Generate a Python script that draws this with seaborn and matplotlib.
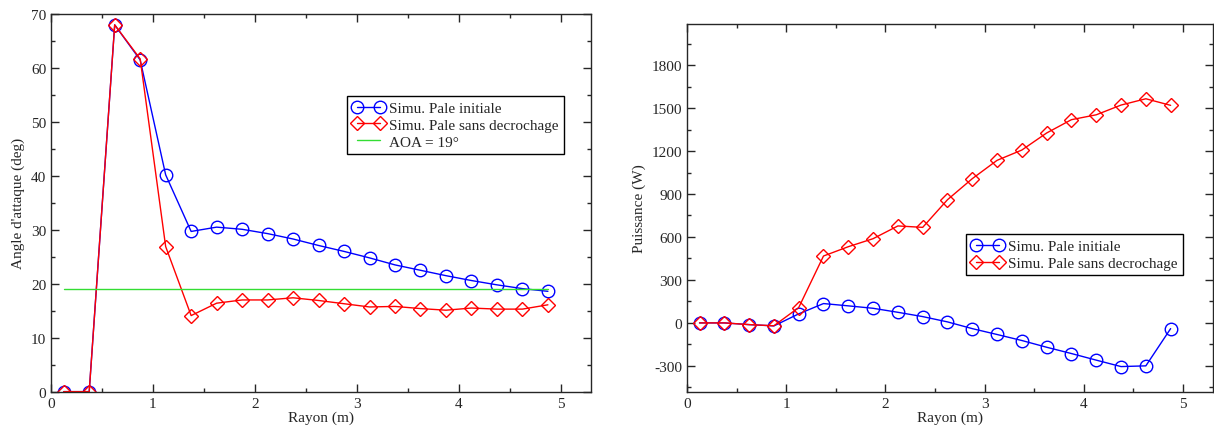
import pandas as pd
import matplotlib
matplotlib.use('Agg')
import matplotlib.pyplot as plt
import seaborn as sns
from matplotlib.ticker import MultipleLocator

# Data
rayon = [0.125, 0.375, 0.625, 0.875, 1.125, 1.375, 1.625, 1.875, 2.125, 2.375,
         2.625, 2.875, 3.125, 3.375, 3.625, 3.875, 4.125, 4.375, 4.625, 4.875]

aoa_initiale = [0, 0, 68.0, 61.5, 40.2, 29.7, 30.5, 30.1, 29.3, 28.3,
                27.1, 26.0, 24.8, 23.5, 22.5, 21.5, 20.6, 19.8, 19.1, 18.6]
aoa_sans_decro = [0, 0, 68.0, 61.7, 26.9, 14.1, 16.4, 17.0, 17.0, 17.4,
                  16.9, 16.3, 15.7, 15.8, 15.4, 15.1, 15.5, 15.3, 15.3, 16.1]
aoa_ref = 19

p_initiale = [0, 0, -12, -21, 63, 135, 119, 102, 74, 44,
              7, -40, -81, -123, -170, -214, -260, -305, -300, -40]
p_sans_decro = [0, 0, -12, -20, 107, 467, 532, 588, 677, 667,
                860, 1007, 1135, 1207, 1326, 1419, 1453, 1521, 1565, 1519]

lbl_init = 'Simu. Pale initiale'
lbl_sans = 'Simu. Pale sans decrochage'

sns.set_style('ticks')
plt.rcParams['font.family'] = ['Liberation Serif', 'DejaVu Serif']
plt.rcParams['font.size'] = 11
plt.rcParams['axes.unicode_minus'] = False

fig = plt.figure(figsize=(12.14, 4.31), dpi=100)
ax1 = fig.add_axes([0.042, 0.089, 0.445, 0.876])
ax2 = fig.add_axes([0.566, 0.089, 0.433, 0.854])

df_aoa = pd.DataFrame({'rayon': rayon, 'init': aoa_initiale, 'sans': aoa_sans_decro})
df_p = pd.DataFrame({'rayon': rayon, 'init': p_initiale, 'sans': p_sans_decro})

def draw_series(ax, df):
    sns.lineplot(data=df, x='rayon', y='init', ax=ax, color='blue', lw=1,
                 marker='o', markersize=9, markerfacecolor='none',
                 markeredgecolor='blue', markeredgewidth=1, label=lbl_init)
    sns.lineplot(data=df, x='rayon', y='sans', ax=ax, color='red', lw=1,
                 marker='D', markersize=7, markerfacecolor='none',
                 markeredgecolor='red', markeredgewidth=1, label=lbl_sans)

leg_kw = dict(loc='upper left', fancybox=False, edgecolor='black', framealpha=1,
              fontsize=11, borderpad=0.35, handlelength=2.1, labelspacing=0.2,
              numpoints=2, handletextpad=0.3, borderaxespad=0)

# Left: angle of attack
draw_series(ax1, df_aoa)
sns.lineplot(x=[rayon[0], rayon[-1]], y=[aoa_ref, aoa_ref], ax=ax1,
             color='#33dd33', lw=1, label='AOA = 19°')
ax1.set_xlim(0, 5.3)
ax1.set_ylim(0, 70)
ax1.yaxis.set_major_locator(MultipleLocator(10))
ax1.yaxis.set_minor_locator(MultipleLocator(5))
ax1.set_ylabel("Angle d'attaque (deg)")
ax1.legend(bbox_to_anchor=(0.548, 0.783), **leg_kw)

# Right: power
draw_series(ax2, df_p)
ax2.set_xlim(0, 5.3)
ax2.set_ylim(-480, 2090)
ax2.yaxis.set_major_locator(MultipleLocator(300))
ax2.yaxis.set_minor_locator(MultipleLocator(150))
ax2.set_ylabel('Puissance (W)')
ax2.legend(bbox_to_anchor=(0.53, 0.428), **leg_kw)

for ax in (ax1, ax2):
    ax.set_xlabel('Rayon (m)', labelpad=1)
    ax.xaxis.set_major_locator(MultipleLocator(1))
    ax.xaxis.set_minor_locator(MultipleLocator(0.5))
    ax.tick_params(which='both', direction='in', top=True, right=True,
                   labelsize=11, width=1)
    ax.tick_params(which='major', length=6)
    ax.tick_params(which='minor', length=3)
    for s in ax.spines.values():
        s.set_linewidth(1)
        s.set_visible(True)

fig.savefig('out.png', dpi=100)
